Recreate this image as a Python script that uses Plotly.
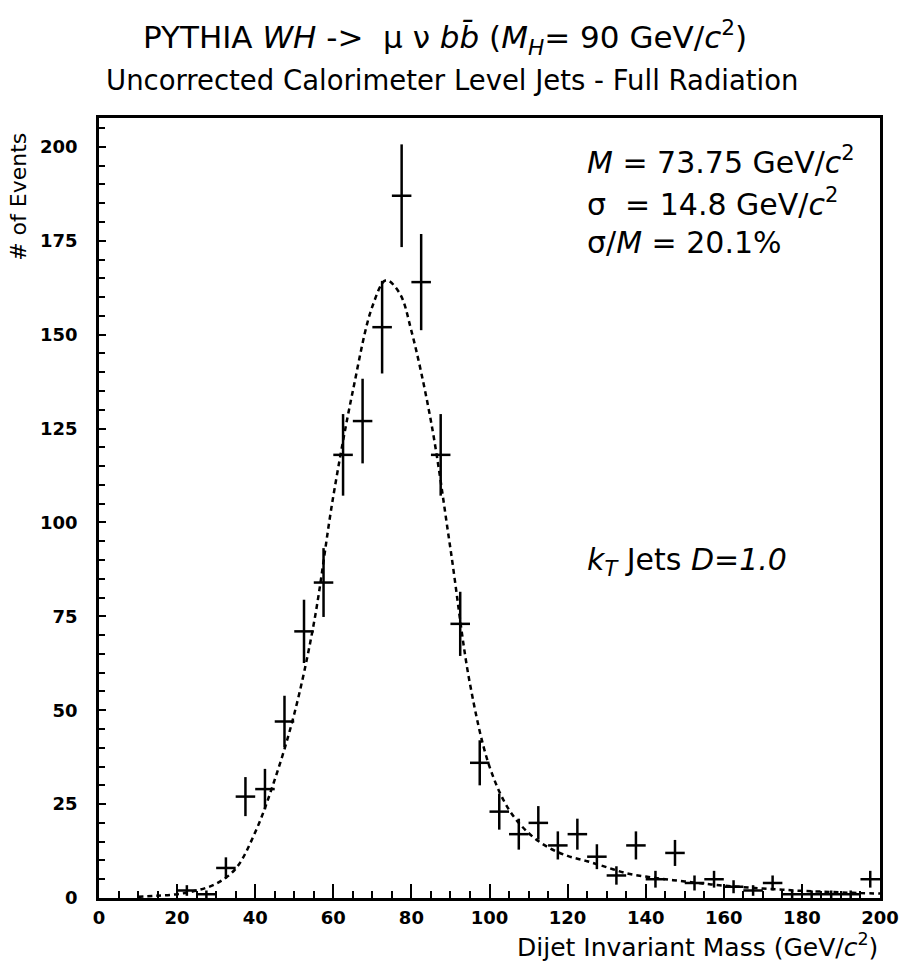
import plotly.graph_objects as go

# ---- data ----
bin_centers = [22.5, 27.5, 32.5, 37.5, 42.5, 47.5, 52.5, 57.5, 62.5, 67.5,
               72.5, 77.5, 82.5, 87.5, 92.5, 97.5, 102.5, 107.5, 112.5, 117.5,
               122.5, 127.5, 132.5, 137.5, 142.5, 147.5, 152.5, 157.5, 162.5, 167.5,
               172.5, 177.5, 182.5, 187.5, 192.5, 197.5]
counts = [2, 1, 8, 27, 29, 47, 71, 84, 118, 127,
          152, 187, 164, 118, 73, 36, 23, 17, 20, 14,
          17, 11, 6, 14, 5, 12, 4, 5, 3, 2,
          4, 1, 1, 1, 1, 5]
errors = [c ** 0.5 for c in counts]
half_width = [2.5] * len(bin_centers)

fit_x = [10, 15, 20, 25, 30, 35, 40, 45, 50, 55, 60, 65, 70, 73.5, 77, 80, 85, 90,
         95, 100, 105, 110, 115, 120, 125, 130, 135, 140, 145, 150, 155, 160, 165,
         170, 175, 180, 185, 190, 195, 200]
fit_y = [0.3, 0.6, 1.0, 2.0, 3.8, 7.8, 17.5, 31.5, 49, 73, 107, 135, 157.5, 164.5, 161,
         151, 127, 93, 57, 35, 23.5, 17.3, 13.5, 11.2, 9.8, 8.2, 6.6, 5.7, 5.0, 4.4,
         3.8, 3.3, 2.9, 2.5, 2.2, 1.9, 1.7, 1.5, 1.3, 1.2]

x_ticks = [0, 20, 40, 60, 80, 100, 120, 140, 160, 180, 200]
y_ticks = [0, 25, 50, 75, 100, 125, 150, 175, 200]

FONT = "DejaVu Sans, Liberation Sans, Arial, sans-serif"

fig = go.Figure()

fig.add_trace(go.Scatter(
    x=fit_x, y=fit_y, mode="lines", line_shape="spline",
    line=dict(color="black", width=2.5, dash="5px,4px"),
    hoverinfo="skip", showlegend=False))

fig.add_trace(go.Scatter(
    x=bin_centers, y=counts, mode="markers",
    marker=dict(size=1, color="black"),
    error_y=dict(type="data", array=errors, visible=True, color="black",
                 thickness=2.5, width=0),
    error_x=dict(type="data", array=half_width, visible=True, color="black",
                 thickness=2.5, width=0),
    showlegend=False))

axis_common = dict(
    showgrid=False, zeroline=False, showline=True, linecolor="black", linewidth=2.5,
    mirror=True, ticks="inside", tickcolor="black", tickwidth=2,
    tickfont=dict(family=FONT, size=18, color="black", weight="bold"),
    ticklabeloverflow="allow", automargin=False,
)

fig.update_xaxes(range=[0, 200], tickvals=x_ticks, ticklen=14, ticklabelstandoff=2,
                 minor=dict(dtick=5, ticklen=7, ticks="inside", tickcolor="black", tickwidth=2),
                 **axis_common)
fig.update_yaxes(range=[0, 207.7], tickvals=y_ticks, ticklen=7, ticklabelstandoff=15,
                 minor=dict(dtick=5, ticklen=6, ticks="inside", tickcolor="black", tickwidth=2),
                 **axis_common)

ann = []
ann.append(dict(text="PYTHIA <i>WH</i> ->  μ ν <i>b</i><i>b̄</i> (<i>M<sub>H</sub></i>= 90 GeV/<i>c</i><sup>2</sup>)",
                x=0.443, y=1.1026, xref="paper", yref="paper", showarrow=False,
                xanchor="center", yanchor="middle", font=dict(family=FONT, size=31, color="black")))
ann.append(dict(text="Uncorrected Calorimeter Level Jets - Full Radiation",
                x=0.452, y=1.0487, xref="paper", yref="paper", showarrow=False,
                xanchor="center", yanchor="middle", font=dict(family=FONT, size=27.5, color="black")))
stats = ["<i>M</i> = 73.75 GeV/<i>c</i><sup>2</sup>",
         "σ  = 14.8 GeV/<i>c</i><sup>2</sup>",
         "σ/<i>M</i> = 20.1%"]
for t, yy in zip(stats, [0.946, 0.892, 0.840]):
    ann.append(dict(text=t, x=0.6223, y=yy, xref="paper", yref="paper", showarrow=False,
                    xanchor="left", yanchor="middle", font=dict(family=FONT, size=30, color="black")))
ann.append(dict(text="<i>k<sub>T</sub></i> Jets <i>D=1.0</i>", x=0.6223, y=0.4308,
                xref="paper", yref="paper", showarrow=False, xanchor="left", yanchor="middle",
                font=dict(family=FONT, size=30, color="black")))
ann.append(dict(text="# of Events", x=-0.1024, y=0.899, xref="paper", yref="paper",
                showarrow=False, textangle=-90, xanchor="center", yanchor="middle",
                font=dict(family=FONT, size=22, color="black")))
ann.append(dict(text="Dijet Invariant Mass (GeV/<i>c</i><sup>2</sup>)", x=1.0, y=-0.0603,
                xref="paper", yref="paper", showarrow=False, xanchor="right", yanchor="middle",
                font=dict(family=FONT, size=25, color="black")))

fig.update_layout(
    width=899, height=964,
    margin=dict(l=99, r=19, t=118, b=66, autoexpand=False),
    paper_bgcolor="white", plot_bgcolor="white",
    annotations=ann,
)

# remove the browser's default 8px body margin so the figure fills the window exactly
fig.write_html("out.html", config={"displayModeBar": False},
               post_script="document.body.style.margin='0';document.body.style.overflow='hidden';")
